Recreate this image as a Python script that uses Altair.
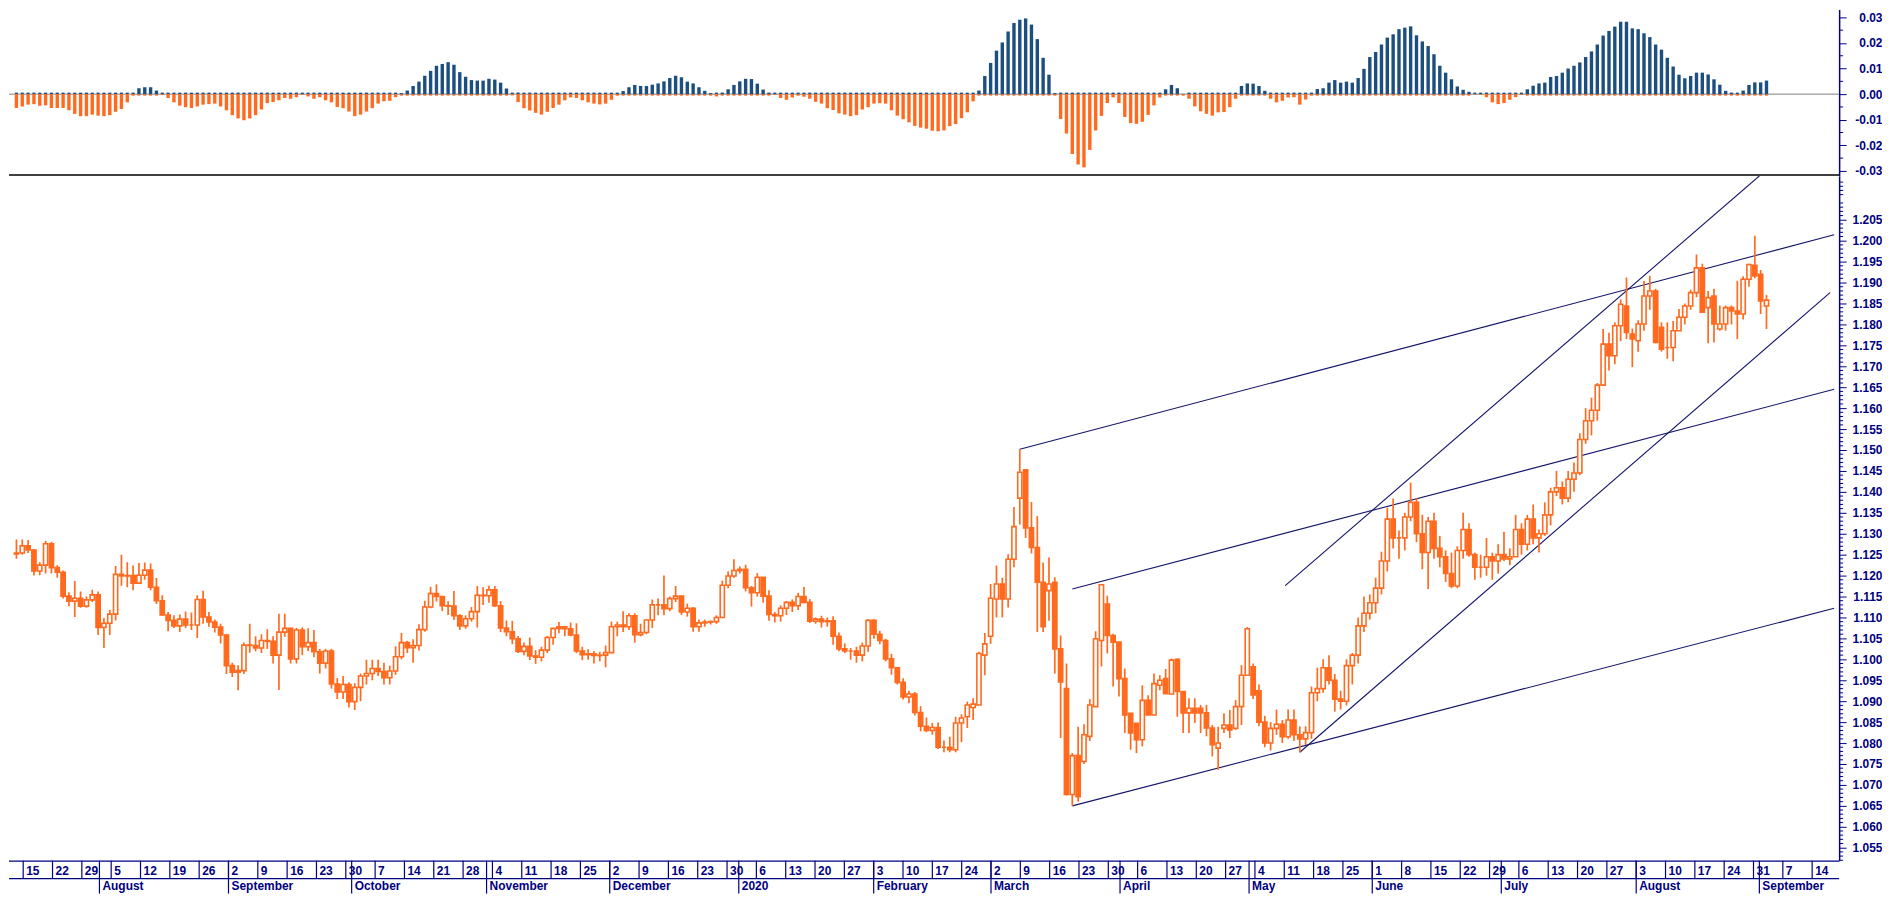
import altair as alt
import pandas as pd

FIRST_DAY = "2019-07-11"   # first weekday drawn; one candle per weekday

opens = [
    1.1252, 1.1254,
    1.1271, 1.1261, 1.1211, 1.1225, 1.1276,
    1.1219, 1.1208, 1.1151, 1.1139, 1.1146,
    1.1127, 1.1142, 1.1154, 1.1076, 1.1086,
    1.1108, 1.1203, 1.1199, 1.1200, 1.1182,
    1.1201, 1.1213, 1.1172, 1.1140, 1.1106,
    1.1093, 1.1080, 1.1096, 1.1082, 1.1082,
    1.1143, 1.1101, 1.1089, 1.1077, 1.1058,
    1.0985, 1.0969, 1.0973, 1.1034, 1.1033,
    1.1027, 1.1045, 1.1043, 1.1010, 1.1065,
    1.1074, 1.1001, 1.1070, 1.1030, 1.1040,
    1.1018, 1.0991, 1.1020, 1.0941, 1.0922,
    1.0940, 1.0899, 1.0933, 1.0960, 1.0966,
    1.0978, 1.0971, 1.0956, 1.0972, 1.1006,
    1.1040, 1.1028, 1.1033, 1.1071, 1.1125,
    1.1157, 1.1150, 1.1128, 1.1127, 1.1104,
    1.1080, 1.1097, 1.1114, 1.1153, 1.1152,
    1.1166, 1.1128, 1.1075, 1.1066, 1.1049,
    1.1019, 1.1031, 1.1008, 1.1005, 1.1022,
    1.1052, 1.1074, 1.1078, 1.1073, 1.1058,
    1.1020, 1.1011, 1.1013, 1.1009, 1.1010,
    1.1016, 1.1078, 1.1082, 1.1078, 1.1104,
    1.1059, 1.1064, 1.1094, 1.1130, 1.1130,
    1.1121, 1.1145, 1.1151, 1.1113, 1.1122,
    1.1078, 1.1087, 1.1089, 1.1090, 1.1100,
    1.1177, 1.1199, 1.1212, 1.1215, 1.1171,
    1.1159, 1.1196, 1.1151, 1.1107, 1.1104,
    1.1122, 1.1136, 1.1128, 1.1150, 1.1136,
    1.1091, 1.1096, 1.1090, 1.1092, 1.1055,
    1.1025, 1.1020, 1.1020, 1.1010, 1.1032,
    1.1093, 1.1060, 1.1045, 1.1001, 1.0980,
    1.0945, 1.0910, 1.0917, 1.0873, 1.0840,
    1.0830, 1.0837, 1.0790, 1.0790, 1.0784,
    1.0848, 1.0863, 1.0885, 1.0891, 1.1010,
    1.1055, 1.1144, 1.1180, 1.1144, 1.1239,
    1.1385, 1.1453, 1.1314, 1.1267, 1.1184,
    1.1164, 1.1184, 1.1025, 1.0930, 1.0677,
    1.0770, 1.0756, 1.0816, 1.0887, 1.1045,
    1.1132, 1.1057, 1.1041, 1.0954, 1.0871,
    1.0847, 1.0808, 1.0902, 1.0867, 1.0938,
    1.0954, 1.0917, 1.1000, 1.0923, 1.0872,
    1.0883, 1.0883, 1.0872, 1.0836, 1.0788,
    1.0835, 1.0843, 1.0835, 1.0887, 1.0962,
    1.0982, 1.0925, 1.0850, 1.0800, 1.0835,
    1.0845, 1.0815, 1.0855, 1.0820, 1.0810,
    1.0825, 1.0920, 1.0930, 1.0980, 1.0950,
    1.0905, 1.0900, 1.0985, 1.1010, 1.1080,
    1.1110, 1.1135, 1.1170, 1.1235, 1.1335,
    1.1290, 1.1290, 1.1340, 1.1375, 1.1300,
    1.1255, 1.1330, 1.1265, 1.1245, 1.1205,
    1.1175, 1.1260, 1.1310, 1.1250, 1.1220,
    1.1220, 1.1245, 1.1235, 1.1250, 1.1240,
    1.1245, 1.1310, 1.1275, 1.1335, 1.1290,
    1.1300, 1.1345, 1.1400, 1.1410, 1.1385,
    1.1430, 1.1445, 1.1525, 1.1570, 1.1595,
    1.1655, 1.1753, 1.1725, 1.1797, 1.1844,
    1.1777, 1.1761, 1.1801, 1.1868, 1.1880,
    1.1793, 1.1745, 1.1745, 1.1785, 1.1817,
    1.1844, 1.1876, 1.1935, 1.1840, 1.1868,
    1.1789, 1.1801, 1.1840, 1.1832, 1.1825,
    1.1908, 1.1941, 1.1920, 1.1844,
]

highs = [
    1.1286, 1.1286,
    1.1285, 1.1263, 1.1232, 1.1283, 1.1281,
    1.1225, 1.1212, 1.1160, 1.1187, 1.1162,
    1.1150, 1.1166, 1.1162, 1.1099, 1.1118,
    1.1223, 1.1250, 1.1232, 1.1224, 1.1230,
    1.1231, 1.1229, 1.1194, 1.1153, 1.1113,
    1.1105, 1.1107, 1.1114, 1.1112, 1.1153,
    1.1164, 1.1113, 1.1095, 1.1085, 1.1060,
    1.0992, 1.0986, 1.1040, 1.1085, 1.1055,
    1.1060, 1.1072, 1.1055, 1.1109, 1.1109,
    1.1075, 1.1075, 1.1076, 1.1074, 1.1070,
    1.1025, 1.1025, 1.1025, 1.0955, 1.0960,
    1.0945, 1.0943, 1.0966, 1.0999, 1.0999,
    1.0999, 1.0992, 1.0985, 1.1031, 1.1063,
    1.1044, 1.1048, 1.1084, 1.1140, 1.1173,
    1.1179, 1.1151, 1.1139, 1.1163, 1.1108,
    1.1105, 1.1125, 1.1175, 1.1172, 1.1176,
    1.1175, 1.1139, 1.1093, 1.1092, 1.1056,
    1.1040, 1.1052, 1.1022, 1.1030, 1.1056,
    1.1075, 1.1089, 1.1080, 1.1088, 1.1086,
    1.1030, 1.1024, 1.1020, 1.1018, 1.1033,
    1.1090, 1.1090, 1.1115, 1.1110, 1.1110,
    1.1085, 1.1095, 1.1143, 1.1145, 1.1200,
    1.1150, 1.1175, 1.1152, 1.1133, 1.1125,
    1.1095, 1.1095, 1.1093, 1.1105, 1.1188,
    1.1210, 1.1239, 1.1222, 1.1226, 1.1175,
    1.1206, 1.1196, 1.1165, 1.1113, 1.1129,
    1.1139, 1.1143, 1.1159, 1.1173, 1.1144,
    1.1100, 1.1104, 1.1100, 1.1103, 1.1064,
    1.1038, 1.1027, 1.1030, 1.1040, 1.1096,
    1.1096, 1.1068, 1.1049, 1.1013, 1.0980,
    1.0955, 1.0925, 1.0922, 1.0888, 1.0861,
    1.0848, 1.0849, 1.0806, 1.0815, 1.0863,
    1.0869, 1.0899, 1.0907, 1.1018, 1.1063,
    1.1180, 1.1224, 1.1195, 1.1251, 1.1364,
    1.1502, 1.1453, 1.1376, 1.1342, 1.1231,
    1.1243, 1.1196, 1.1057, 1.0990, 1.0776,
    1.0839, 1.0845, 1.0905, 1.1067, 1.1180,
    1.1152, 1.1061, 1.1041, 1.0978, 1.0871,
    1.0847, 1.0938, 1.0914, 1.0966, 1.0962,
    1.0977, 1.1002, 1.1002, 1.0923, 1.0907,
    1.0907, 1.0891, 1.0891, 1.0843, 1.0839,
    1.0871, 1.0879, 1.0903, 1.0986, 1.1077,
    1.0990, 1.0940, 1.0865, 1.0850, 1.0880,
    1.0855, 1.0880, 1.0880, 1.0840, 1.0840,
    1.0935, 1.0980, 1.1000, 1.1010, 1.0965,
    1.0925, 1.1000, 1.1015, 1.1100, 1.1150,
    1.1155, 1.1195, 1.1257, 1.1362, 1.1384,
    1.1308, 1.1350, 1.1422, 1.1385, 1.1345,
    1.1340, 1.1350, 1.1295, 1.1260, 1.1255,
    1.1270, 1.1350, 1.1325, 1.1255, 1.1250,
    1.1290, 1.1255, 1.1275, 1.1305, 1.1265,
    1.1345, 1.1325, 1.1345, 1.1370, 1.1310,
    1.1375, 1.1410, 1.1450, 1.1425, 1.1450,
    1.1470, 1.1540, 1.1600, 1.1625, 1.1660,
    1.1789, 1.1780, 1.1805, 1.1860, 1.1912,
    1.1790, 1.1810, 1.1904, 1.1916, 1.1885,
    1.1805, 1.1805, 1.1808, 1.1837, 1.1850,
    1.1883, 1.1967, 1.1945, 1.1880, 1.1885,
    1.1845, 1.1845, 1.1845, 1.1904, 1.1915,
    1.1945, 1.2012, 1.1930, 1.1870,
]

lows = [
    1.1240, 1.1250,
    1.1254, 1.1200, 1.1201, 1.1205, 1.1205,
    1.1195, 1.1145, 1.1127, 1.1101, 1.1123,
    1.1123, 1.1137, 1.1058, 1.1027, 1.1058,
    1.1093, 1.1176, 1.1172, 1.1165, 1.1180,
    1.1190, 1.1165, 1.1132, 1.1104, 1.1067,
    1.1075, 1.1065, 1.1075, 1.1070, 1.1051,
    1.1085, 1.1078, 1.1064, 1.1038, 1.0965,
    1.0958, 1.0926, 1.0965, 1.1016, 1.1019,
    1.1015, 1.1025, 1.0990, 1.0927, 1.1054,
    1.0990, 1.0990, 1.1010, 1.1020, 1.1005,
    1.0966, 1.0978, 1.0930, 1.0905, 1.0905,
    1.0885, 1.0879, 1.0900, 1.0940, 1.0950,
    1.0960, 1.0940, 1.0940, 1.0963, 1.1000,
    1.1015, 1.0992, 1.1021, 1.1066, 1.1122,
    1.1138, 1.1115, 1.1106, 1.1094, 1.1070,
    1.1073, 1.1090, 1.1076, 1.1130, 1.1135,
    1.1125, 1.1065, 1.1055, 1.1036, 1.1015,
    1.1010, 1.0998, 1.0989, 1.0995, 1.1015,
    1.1035, 1.1062, 1.1055, 1.1055, 1.1015,
    1.0998, 1.0999, 1.0990, 1.0995, 1.0981,
    1.1015, 1.1055, 1.1065, 1.1070, 1.1040,
    1.1055, 1.1060, 1.1075, 1.1105, 1.1105,
    1.1115, 1.1137, 1.1106, 1.1102, 1.1066,
    1.1066, 1.1078, 1.1083, 1.1085, 1.1100,
    1.1170, 1.1195, 1.1205, 1.1162, 1.1126,
    1.1150, 1.1135, 1.1092, 1.1088, 1.1090,
    1.1106, 1.1113, 1.1118, 1.1134, 1.1087,
    1.1085, 1.1076, 1.1078, 1.1035, 1.1019,
    1.1015, 1.0999, 1.0992, 1.0995, 1.1018,
    1.1049, 1.1036, 1.0995, 1.0963, 1.0940,
    1.0904, 1.0895, 1.0866, 1.0828, 1.0826,
    1.0820, 1.0786, 1.0778, 1.0778, 1.0778,
    1.0802, 1.0836, 1.0855, 1.0891, 1.0962,
    1.1037, 1.1100, 1.1100, 1.1124, 1.1220,
    1.1322, 1.1290, 1.1253, 1.1065, 1.1065,
    1.1092, 1.0966, 1.0812, 1.0675, 1.0650,
    1.0660, 1.0750, 1.0805, 1.0887, 1.0983,
    1.1014, 1.0935, 1.0911, 1.0824, 1.0784,
    1.0776, 1.0792, 1.0867, 1.0867, 1.0926,
    1.0918, 1.0917, 1.0863, 1.0824, 1.0824,
    1.0848, 1.0824, 1.0816, 1.0768, 1.0736,
    1.0824, 1.0812, 1.0832, 1.0843, 1.0962,
    1.0905, 1.0840, 1.0790, 1.0782, 1.0820,
    1.0800, 1.0810, 1.0805, 1.0778, 1.0795,
    1.0810, 1.0900, 1.0920, 1.0940, 1.0875,
    1.0880, 1.0890, 1.0940, 1.0990, 1.1065,
    1.1095, 1.1110, 1.1155, 1.1210, 1.1265,
    1.1240, 1.1260, 1.1330, 1.1280, 1.1215,
    1.1168, 1.1240, 1.1220, 1.1185, 1.1170,
    1.1170, 1.1240, 1.1245, 1.1190, 1.1195,
    1.1200, 1.1190, 1.1205, 1.1235, 1.1225,
    1.1245, 1.1250, 1.1260, 1.1275, 1.1255,
    1.1295, 1.1320, 1.1390, 1.1370, 1.1375,
    1.1400, 1.1440, 1.1515, 1.1535, 1.1570,
    1.1655, 1.1690, 1.1705, 1.1760, 1.1765,
    1.1698, 1.1735, 1.1785, 1.1835, 1.1755,
    1.1735, 1.1718, 1.1712, 1.1785, 1.1800,
    1.1835, 1.1865, 1.1829, 1.1755, 1.1757,
    1.1785, 1.1785, 1.1800, 1.1765, 1.1812,
    1.1890, 1.1910, 1.1825, 1.1789,
]

closes = [
    1.1254, 1.1271,
    1.1261, 1.1211, 1.1225, 1.1276, 1.1219,
    1.1208, 1.1151, 1.1139, 1.1146, 1.1127,
    1.1142, 1.1154, 1.1076, 1.1086, 1.1108,
    1.1203, 1.1199, 1.1200, 1.1182, 1.1201,
    1.1213, 1.1172, 1.1140, 1.1106, 1.1093,
    1.1080, 1.1096, 1.1082, 1.1082, 1.1143,
    1.1101, 1.1089, 1.1077, 1.1058, 1.0985,
    1.0969, 1.0973, 1.1034, 1.1033, 1.1027,
    1.1045, 1.1043, 1.1010, 1.1065, 1.1074,
    1.1001, 1.1070, 1.1030, 1.1040, 1.1018,
    1.0991, 1.1020, 1.0941, 1.0922, 1.0940,
    1.0899, 1.0933, 1.0960, 1.0966, 1.0978,
    1.0971, 1.0956, 1.0972, 1.1006, 1.1040,
    1.1028, 1.1033, 1.1071, 1.1125, 1.1157,
    1.1150, 1.1128, 1.1127, 1.1104, 1.1080,
    1.1097, 1.1114, 1.1153, 1.1152, 1.1166,
    1.1128, 1.1075, 1.1066, 1.1049, 1.1019,
    1.1031, 1.1008, 1.1005, 1.1022, 1.1052,
    1.1074, 1.1078, 1.1073, 1.1058, 1.1020,
    1.1011, 1.1013, 1.1009, 1.1010, 1.1016,
    1.1078, 1.1082, 1.1078, 1.1104, 1.1059,
    1.1064, 1.1094, 1.1130, 1.1130, 1.1121,
    1.1145, 1.1151, 1.1113, 1.1122, 1.1078,
    1.1087, 1.1089, 1.1090, 1.1100, 1.1177,
    1.1199, 1.1212, 1.1215, 1.1171, 1.1159,
    1.1196, 1.1151, 1.1107, 1.1104, 1.1122,
    1.1136, 1.1128, 1.1150, 1.1136, 1.1091,
    1.1096, 1.1090, 1.1092, 1.1055, 1.1025,
    1.1020, 1.1020, 1.1010, 1.1032, 1.1093,
    1.1060, 1.1045, 1.1001, 1.0980, 1.0945,
    1.0910, 1.0917, 1.0873, 1.0840, 1.0830,
    1.0837, 1.0790, 1.0790, 1.0784, 1.0848,
    1.0860, 1.0891, 1.0893, 1.1014, 1.1037,
    1.1146, 1.1180, 1.1144, 1.1239, 1.1317,
    1.1447, 1.1314, 1.1267, 1.1184, 1.1078,
    1.1180, 1.1025, 1.0946, 1.0677, 1.0770,
    1.0672, 1.0820, 1.0891, 1.1049, 1.1178,
    1.1057, 1.1041, 1.0954, 1.0867, 1.0824,
    1.0808, 1.0902, 1.0867, 1.0942, 1.0950,
    1.0918, 1.0998, 1.0923, 1.0872, 1.0883,
    1.0872, 1.0872, 1.0836, 1.0796, 1.0800,
    1.0843, 1.0831, 1.0887, 1.0962, 1.1073,
    1.0915, 1.0850, 1.0800, 1.0835, 1.0845,
    1.0815, 1.0855, 1.0820, 1.0810, 1.0825,
    1.0920, 1.0930, 1.0980, 1.0950, 1.0905,
    1.0900, 1.0985, 1.1010, 1.1080, 1.1110,
    1.1135, 1.1170, 1.1235, 1.1335, 1.1290,
    1.1290, 1.1340, 1.1375, 1.1300, 1.1255,
    1.1330, 1.1265, 1.1245, 1.1205, 1.1175,
    1.1260, 1.1310, 1.1250, 1.1220, 1.1220,
    1.1245, 1.1235, 1.1250, 1.1240, 1.1245,
    1.1310, 1.1275, 1.1335, 1.1290, 1.1300,
    1.1345, 1.1400, 1.1410, 1.1385, 1.1430,
    1.1445, 1.1525, 1.1570, 1.1595, 1.1655,
    1.1753, 1.1725, 1.1797, 1.1848, 1.1781,
    1.1765, 1.1801, 1.1868, 1.1880, 1.1757,
    1.1741, 1.1745, 1.1785, 1.1817, 1.1844,
    1.1876, 1.1935, 1.1829, 1.1864, 1.1801,
    1.1801, 1.1840, 1.1832, 1.1825, 1.1908,
    1.1943, 1.1916, 1.1856, 1.1858,
]

# oscillator histogram (one bar per weekday)
oscillator = [
    -0.0054, -0.0048, -0.0041, -0.0039, -0.0045, -0.0044, -0.0054, -0.0054, -0.0054, -0.0063,
    -0.0077, -0.0086, -0.0086, -0.0080, -0.0084, -0.0086, -0.0082, -0.0069, -0.0058, -0.0032,
    -0.0006,
    0.0023, 0.0027, 0.0027, 0.0014, -0.0003,
    -0.0015, -0.0032, -0.0045, -0.0051, -0.0054, -0.0048, -0.0041, -0.0039, -0.0037, -0.0048,
    -0.0063, -0.0082, -0.0095, -0.0102, -0.0095, -0.0082, -0.0060, -0.0035, -0.0031, -0.0024,
    -0.0015, -0.0018, -0.0012, -0.0003, -0.0009, -0.0018, -0.0012, -0.0024, -0.0032, -0.0050,
    -0.0055, -0.0068, -0.0086, -0.0080, -0.0068, -0.0055, -0.0037, -0.0028, -0.0026, -0.0012,
    0.0004, 0.0014, 0.0032, 0.0049, 0.0072, 0.0091, 0.0111, 0.0118, 0.0125, 0.0115,
    0.0086, 0.0068, 0.0055, 0.0053, 0.0053, 0.0060, 0.0057, 0.0045, 0.0022,
    -0.0005, -0.0031, -0.0055, -0.0064, -0.0073, -0.0080, -0.0069, -0.0054, -0.0041, -0.0024,
    -0.0013, -0.0015, -0.0024, -0.0032, -0.0037, -0.0040, -0.0037, -0.0022, -0.0006,
    0.0012, 0.0027, 0.0036, 0.0032, 0.0032, 0.0037, 0.0042, 0.0050, 0.0063, 0.0072,
    0.0066, 0.0049, 0.0042, 0.0027,
    0.0013, 0.0004, -0.0009, 0.0006, 0.0019, 0.0036, 0.0050, 0.0060, 0.0059, 0.0041,
    0.0018, 0.0006, -0.0003,
    -0.0015, -0.0022, -0.0013, -0.0006, -0.0010, -0.0018, -0.0030, -0.0037, -0.0055, -0.0062,
    -0.0075, -0.0080, -0.0086, -0.0082, -0.0060, -0.0051, -0.0037, -0.0035, -0.0037, -0.0063,
    -0.0084, -0.0098, -0.0110, -0.0124, -0.0131, -0.0135, -0.0143, -0.0145, -0.0142, -0.0125,
    -0.0117, -0.0094, -0.0071, -0.0028,
    0.0014, 0.0071, 0.0122, 0.0170, 0.0202, 0.0245, 0.0278, 0.0291, 0.0296, 0.0272,
    0.0215, 0.0142, 0.0076, 0.0004,
    -0.0097, -0.0154, -0.0234, -0.0275, -0.0286, -0.0218, -0.0142, -0.0085, -0.0035, -0.0013,
    -0.0035, -0.0089, -0.0113, -0.0116, -0.0108, -0.0081, -0.0044, -0.0013,
    0.0019, 0.0036, 0.0023, 0.0001,
    -0.0018, -0.0048, -0.0067, -0.0077, -0.0084, -0.0071, -0.0070, -0.0051, -0.0018,
    0.0032, 0.0042, 0.0041, 0.0032, 0.0013,
    -0.0018, -0.0032, -0.0026, -0.0013, -0.0012, -0.0041, -0.0021, -0.0006,
    0.0020,
    0.0023, 0.0045, 0.0055, 0.0045, 0.0049, 0.0045, 0.0063, 0.0099, 0.0145, 0.0165,
    0.0194, 0.0221, 0.0234, 0.0254, 0.0260, 0.0265, 0.0230, 0.0206, 0.0188, 0.0156,
    0.0111, 0.0084, 0.0058, 0.0030, 0.0017, 0.0009, 0.0000, -0.0003, -0.0012, -0.0032,
    -0.0039, -0.0035, -0.0022, -0.0012, -0.0003, 0.0019, 0.0033, 0.0042, 0.0045, 0.0067,
    0.0071, 0.0084, 0.0100, 0.0111, 0.0124, 0.0145, 0.0167, 0.0194, 0.0229, 0.0247,
    0.0264, 0.0283, 0.0283, 0.0257, 0.0254, 0.0238, 0.0223, 0.0194, 0.0174, 0.0142,
    0.0108, 0.0076, 0.0062, 0.0071, 0.0084, 0.0084, 0.0077, 0.0058, 0.0037, 0.0013,
    0.0006, -0.0006, 0.0014, 0.0036, 0.0046, 0.0046, 0.0053,
]

# drawn trend lines: start/end (weekday position, price)
line_x0 = [172.0, 181.0, 181.0, 220.0, 217.5]
line_y0 = [1.1502, 1.1168, 1.0650, 1.0778, 1.1176]
line_x1 = [311.6, 311.6, 311.6, 310.9, 298.8]
line_y1 = [1.2014, 1.1645, 1.1122, 1.1876, 1.2155]

month_names = ["August", "September", "October", "November", "December", "2020",
               "February", "March", "April", "May", "June", "July", "August", "September"]

hist_ticks = [-0.03, -0.02, -0.01, 0.0, 0.01, 0.02, 0.03]
price_ticks = [round(1.055 + 0.005 * k, 3) for k in range(31)]

# ---------------------------------------------------------------- layout
NAVY = "#000080"
ORANGE = "#FF6A1F"
BLUE = "#1C4E80"
LINE = "#14146A"
FONT = "Liberation Sans"
W = 1836
H1, H2, H3 = 167, 687, 33

n = min(len(opens), len(highs), len(lows), len(closes), len(oscillator))
days = pd.bdate_range(FIRST_DAY, periods=n + 14)

XS = alt.Scale(domain=[-0.42, 311.6], nice=False, zero=False)
HYS = alt.Scale(domain=[-0.03195, 0.03312], nice=False, zero=False)
PYS = alt.Scale(domain=[1.0519, 1.21548], nice=False, zero=False)


def right_axis(values, fmt):
    return alt.Axis(
        orient="right", values=values, title=None, grid=False,
        labelExpr="replace(format(datum.value,'%s'),'\u2212','-')" % fmt,
        tickSize=7, tickColor=NAVY, tickWidth=1,
        domainColor=NAVY, domainWidth=1.5,
        labelColor=NAVY, labelFont=FONT, labelFontWeight="bold", labelFontSize=12,
        labelAlign="right", labelBaseline="middle", labelPadding=36,
        labelFlush=False, labelOverlap=False,
    )


HAX = right_axis(hist_ticks, ".2f")
PAX = right_axis(price_ticks, ".3f")

X = alt.X("pos:Q", scale=XS, axis=None)

# ---------------------------------------------------------------- oscillator panel
osc = pd.DataFrame({"pos": range(n), "v": oscillator[:n]})
osc["zero"] = 0.0
pos_df = osc[osc["v"] > 0].copy()
neg_df = osc[osc["v"] <= 0].copy()
pos_df["tick"] = -0.0006
neg_df["tick"] = 0.0006

zero_df = pd.DataFrame({"z": [0.0]})
hminor = pd.DataFrame({"m": [-0.025, -0.015, -0.005, 0.005, 0.015, 0.025]})

h_zero = alt.Chart(zero_df).mark_rule(color="#808080", strokeWidth=1).encode(
    x=alt.value(0), x2=alt.value(W), y=alt.Y("z:Q", scale=HYS, axis=HAX))
h_minor = alt.Chart(hminor).mark_rule(color=NAVY, strokeWidth=1).encode(
    x=alt.value(W), x2=alt.value(W + 4), y=alt.Y("m:Q", scale=HYS, axis=HAX))
h_tick_o = alt.Chart(pos_df).mark_bar(size=3, color=ORANGE).encode(
    x=X, y=alt.Y("tick:Q", scale=HYS, axis=HAX), y2="zero:Q")
h_tick_b = alt.Chart(neg_df).mark_bar(size=3, color=BLUE).encode(
    x=X, y=alt.Y("tick:Q", scale=HYS, axis=HAX), y2="zero:Q")
h_pos = alt.Chart(pos_df).mark_bar(size=3.4, color=BLUE).encode(
    x=X, y=alt.Y("v:Q", scale=HYS, axis=HAX), y2="zero:Q")
h_neg = alt.Chart(neg_df).mark_bar(size=3.4, color=ORANGE).encode(
    x=X, y=alt.Y("v:Q", scale=HYS, axis=HAX), y2="zero:Q")
h_sep = alt.Chart(zero_df).mark_rule(color="black", strokeWidth=1.5).encode(
    x=alt.value(0), x2=alt.value(W), y=alt.value(H1 - 1))

hist_panel = alt.layer(h_zero, h_minor, h_tick_o, h_tick_b, h_pos, h_neg, h_sep).properties(
    width=W, height=H1)

# ---------------------------------------------------------------- price panel
px = pd.DataFrame({"pos": range(n), "open": opens[:n], "high": highs[:n],
                   "low": lows[:n], "close": closes[:n]})
lines = pd.DataFrame({"x0": line_x0, "y0": line_y0, "x1": line_x1, "y1": line_y1})
pminor_vals = [round(1.052 + 0.001 * k, 3) for k in range(164)]
pminor = pd.DataFrame({"m": [v for v in pminor_vals
                             if abs(v * 1000 - round(v * 200) * 5) > 0.01]})

p_minor = alt.Chart(pminor).mark_rule(color=NAVY, strokeWidth=1).encode(
    x=alt.value(W), x2=alt.value(W + 4), y=alt.Y("m:Q", scale=PYS, axis=PAX))
wicks = alt.Chart(px).mark_rule(color=ORANGE, strokeWidth=1.7, clip=True).encode(
    x=X, y=alt.Y("low:Q", scale=PYS, axis=PAX), y2="high:Q")
bodies = alt.Chart(px).mark_bar(size=4.2, stroke=ORANGE, strokeWidth=1.6, clip=True).encode(
    x=X, y=alt.Y("open:Q", scale=PYS, axis=PAX), y2="close:Q",
    fill=alt.condition("datum.close > datum.open", alt.value("white"), alt.value(ORANGE)))
trend = alt.Chart(lines).mark_rule(color=LINE, strokeWidth=1.1, clip=True).encode(
    x=alt.X("x0:Q", scale=XS, axis=None), x2="x1:Q",
    y=alt.Y("y0:Q", scale=PYS, axis=PAX), y2="y1:Q")

price_panel = alt.layer(p_minor, trend, wicks, bodies).properties(width=W, height=H2)

# ---------------------------------------------------------------- date band
cal = pd.DataFrame({"date": days})
cal["pos"] = range(len(cal))
cal = cal[cal["pos"] <= 311]
mondays = cal[cal["date"].dt.weekday == 0].copy()
mondays["label"] = mondays["date"].dt.day.astype(str)
starts = cal[cal["date"].dt.month != cal["date"].shift(1).dt.month].iloc[1:].copy()
starts = starts.iloc[:len(month_names)]
starts["label"] = month_names[:len(starts)]

band_lines = pd.DataFrame({"yy": [0.5, 18]})
b_h = alt.Chart(band_lines).mark_rule(color=NAVY, strokeWidth=1.2).encode(
    x=alt.value(0), x2=alt.value(W),
    y=alt.Y("yy:Q", scale=alt.Scale(domain=[0, H3], range=[0, H3]), axis=None))
b_week = alt.Chart(mondays).mark_rule(color=NAVY, strokeWidth=1.2).encode(
    x=X, y=alt.value(0), y2=alt.value(18))
b_month = alt.Chart(starts).mark_rule(color=NAVY, strokeWidth=1.2).encode(
    x=X, y=alt.value(0), y2=alt.value(H3))
b_day_txt = alt.Chart(mondays).mark_text(
    align="left", baseline="alphabetic", dx=3, font=FONT, fontWeight="bold",
    fontSize=12, color=NAVY).encode(x=X, y=alt.value(14), text="label:N")
b_mon_txt = alt.Chart(starts).mark_text(
    align="left", baseline="alphabetic", dx=3, font=FONT, fontWeight="bold",
    fontSize=12, color=NAVY).encode(x=X, y=alt.value(29), text="label:N")

band_panel = alt.layer(b_h, b_week, b_month, b_day_txt, b_mon_txt).properties(
    width=W, height=H3)

chart = alt.vconcat(hist_panel, price_panel, band_panel, spacing=0).properties(
    padding=0, bounds="flush", background="white"
).configure_view(stroke=None)

chart.save("out.html", embed_options={"renderer": "svg", "actions": False})
